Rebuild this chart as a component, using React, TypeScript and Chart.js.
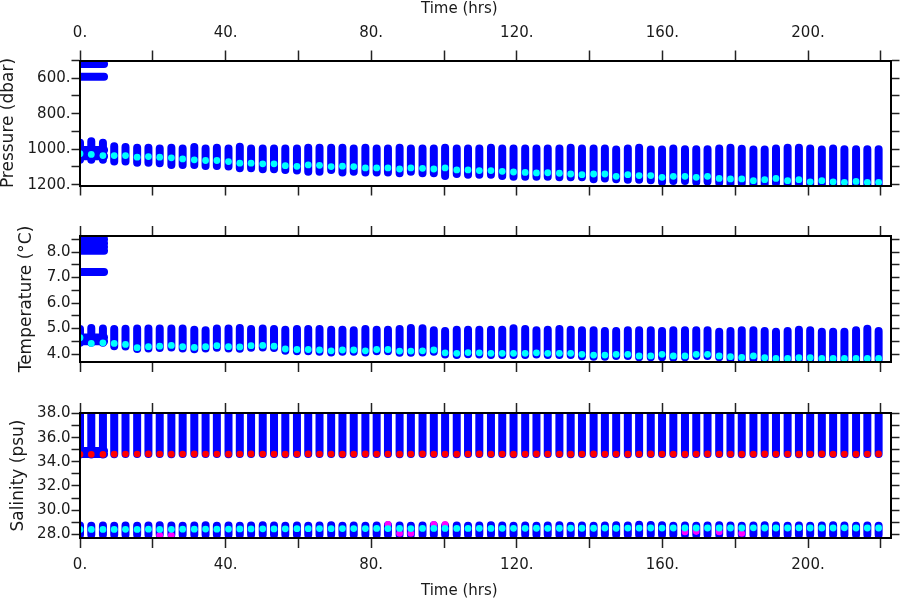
import { useEffect, useRef } from 'react';
import { Chart, registerables } from 'chart.js';

Chart.register(...registerables);

// ---------- data ----------
const TIMES = [0, 3.1, 6.3, 9.4, 12.5, 15.7, 18.8, 21.9, 25.1, 28.2, 31.4, 34.5, 37.6, 40.8, 43.9, 47.0, 50.2, 53.3, 56.4, 59.6,
  62.7, 65.8, 69.0, 72.1, 75.2, 78.4, 81.5, 84.6, 87.8, 90.9, 94.1, 97.2, 100.3, 103.5, 106.6, 109.7, 112.9, 116.0, 119.1, 122.3,
  125.4, 128.5, 131.7, 134.8, 137.9, 141.1, 144.2, 147.3, 150.5, 153.6, 156.8, 159.9, 163.0, 166.2, 169.3, 172.4, 175.6, 178.7,
  181.8, 185.0, 188.1, 191.2, 194.4, 197.5, 200.6, 203.8, 206.9, 210.0, 213.2, 216.3, 219.4];

// Pressure (dbar): shallowest / deepest sample of each profile, and highlighted (cyan) sample
const PRES_TOP = [964, 955, 964, 983, 988, 992, 992, 996, 992, 996, 988, 996, 992, 996, 986, 996, 996, 996, 996, 996,
  992, 992, 992, 992, 996, 992, 996, 996, 992, 996, 996, 996, 992, 996, 996, 996, 992, 996, 996, 996, 996, 996, 996, 992, 996, 996, 996,
  1002, 996, 992, 1002, 1002, 996, 1000, 1000, 1000, 996, 992, 998, 1002, 1002, 996, 992, 992, 996, 1002, 996, 1000, 1000, 1000, 1000];
const PRES_BOT = [1060, 1060, 1060, 1070, 1070, 1076, 1076, 1079, 1089, 1089, 1089, 1095, 1095, 1098, 1108, 1108, 1113, 1113, 1117,
  1121, 1128, 1128, 1117, 1132, 1128, 1132, 1132, 1132, 1136, 1128, 1136, 1136, 1151, 1140, 1145, 1145, 1145, 1151, 1155, 1155, 1155,
  1155, 1159, 1159, 1159, 1170, 1165,
  1170, 1172, 1172, 1176, 1185, 1180, 1180, 1185, 1182, 1190, 1195, 1192, 1200, 1198, 1192, 1200, 1198, 1205, 1200, 1205, 1208, 1205, 1208, 1208];
const PRES_CYAN = [1026, 1030, 1036, 1036, 1036, 1045, 1042, 1045, 1049, 1055, 1060, 1064, 1064, 1070, 1079, 1079, 1083, 1083, 1093, 1097,
  1089, 1091, 1098, 1096, 1098, 1106, 1106, 1106, 1112, 1106, 1108, 1112, 1106, 1117, 1117, 1121, 1121, 1125, 1129, 1131,
  1134, 1133, 1136, 1140, 1144, 1140, 1140, 1153, 1144, 1149, 1149, 1159, 1153, 1153, 1159, 1153, 1165,
  1168, 1168, 1178, 1172, 1165, 1178, 1172, 1184, 1178, 1184, 1187, 1182, 1187, 1187];
// early continuous (drifting) samples, first hours of the record
const PRES_EARLY = [520, 591, 1005, 1040];
const EARLY_START = 0;
const EARLY_END = 6.6;

// Temperature (degC)
const TEMP_TOP = [4.98, 5.02, 5.0, 4.98, 4.99, 5.0, 5.0, 5.0, 5.0, 5.0, 4.95, 4.93, 5.0, 5.0, 5.02, 4.98, 5.0, 4.98, 4.95, 4.98,
  4.98, 4.98, 4.95, 4.95, 4.93, 4.98, 4.95, 4.95, 4.98, 5.02, 5.01, 4.93, 4.91, 4.95, 4.95, 4.95, 4.95, 4.95, 5.01, 4.98,
  4.93, 4.95, 4.98, 4.95, 4.93, 4.93, 4.91, 4.91, 4.93, 4.93, 4.93, 4.91, 4.93, 4.93, 4.93, 4.93, 4.88,
  4.91, 4.93, 4.93, 4.91, 4.88, 4.91, 4.95, 4.93, 4.88, 4.88, 4.88, 4.93, 4.99, 4.91];
const TEMP_BOT = [4.44, 4.44, 4.44, 4.31, 4.30, 4.20, 4.22, 4.24, 4.26, 4.22, 4.19, 4.22, 4.25, 4.22, 4.21, 4.25, 4.26, 4.24, 4.13, 4.11,
  4.11, 4.09, 4.06, 4.09, 4.09, 4.06, 4.11, 4.11, 4.05, 4.05, 4.06, 4.09, 3.98, 3.96, 3.99, 3.98, 3.96, 3.96, 3.96, 3.96,
  3.98, 3.96, 3.96, 3.96, 3.92, 3.90, 3.90, 3.93, 3.93, 3.88, 3.88, 3.88, 3.86, 3.88, 3.93, 3.93, 3.88,
  3.82, 3.80, 3.82, 3.81, 3.79, 3.79, 3.81, 3.81, 3.79, 3.79, 3.79, 3.79, 3.79, 3.79];
const TEMP_CYAN = [4.64, 4.42, 4.44, 4.42, 4.38, 4.25, 4.29, 4.31, 4.34, 4.29, 4.26, 4.29, 4.33, 4.29, 4.28, 4.33, 4.34, 4.31, 4.20, 4.18,
  4.18, 4.16, 4.13, 4.16, 4.16, 4.13, 4.18, 4.18, 4.12, 4.12, 4.13, 4.16, 4.05, 4.03, 4.06, 4.05, 4.03, 4.03, 4.03, 4.03,
  4.05, 4.03, 4.03, 4.03, 3.99, 3.96, 3.96, 3.99, 3.99, 3.93, 3.93, 3.99, 3.93, 3.93, 3.99, 3.99, 3.93,
  3.90, 3.87, 3.93, 3.86, 3.83, 3.83, 3.86, 3.86, 3.83, 3.83, 3.83, 3.83, 3.83, 3.83];
const TEMP_EARLY = [8.05, 8.2, 8.35, 8.5, 8.65, 7.22, 4.5, 4.65];

// Salinity (psu): upper branch (clipped at top of panel) ending at red, lower branch with cyan / magenta
const SAL_HI_TOP = [38.3, 38.3, 38.3, 38.3, 38.3, 38.3, 38.3, 38.3, 38.3, 38.3, 38.3, 38.3, 38.3, 38.3, 38.3, 38.3, 38.3, 38.3, 38.3, 38.3,
  38.3, 38.3, 38.3, 38.3, 38.3, 38.3, 38.3, 38.3, 38.3, 38.3, 38.3, 38.3, 38.3, 38.3, 38.3, 38.3, 38.3, 38.3, 38.3, 38.3,
  38.3, 38.3, 38.3, 38.3, 38.3, 38.3, 38.3, 38.3, 38.3, 38.3, 38.3, 38.3, 38.3, 38.3, 38.3, 38.3, 38.3,
  38.3, 38.3, 38.3, 38.3, 38.3, 38.3, 38.3, 38.3, 38.3, 38.3, 38.3, 38.3, 38.3, 38.3];
const SAL_RED = [34.62, 34.62, 34.62, 34.64, 34.65, 34.65, 34.66, 34.65, 34.64, 34.65, 34.66, 34.65, 34.65, 34.64, 34.65, 34.66, 34.65, 34.65, 34.64, 34.65,
  34.66, 34.65, 34.65, 34.64, 34.65, 34.66, 34.65, 34.65, 34.64, 34.65, 34.66, 34.65, 34.65, 34.64, 34.65, 34.66, 34.65, 34.65, 34.64, 34.65,
  34.66, 34.65, 34.65, 34.64, 34.65, 34.66, 34.65, 34.65, 34.64, 34.65, 34.66, 34.65, 34.65, 34.64, 34.65, 34.66, 34.65,
  34.65, 34.64, 34.65, 34.66, 34.65, 34.65, 34.64, 34.65, 34.66, 34.65, 34.65, 34.64, 34.65, 34.66];
const SAL_LO_TOP = [28.72, 28.70, 28.72, 28.70, 28.72, 28.70, 28.72, 28.74, 28.72, 28.70, 28.72, 28.74, 28.70, 28.72, 28.70, 28.72, 28.74, 28.72, 28.70, 28.72,
  28.70, 28.72, 28.74, 28.70, 28.72, 28.70, 28.72, 28.74, 28.72, 28.70, 28.72, 28.74, 28.70, 28.72, 28.70, 28.72, 28.74, 28.72, 28.70, 28.72,
  28.70, 28.72, 28.74, 28.70, 28.72, 28.70, 28.72, 28.74, 28.72, 28.78, 28.76, 28.74, 28.70, 28.72, 28.70, 28.72, 28.74,
  28.72, 28.70, 28.72, 28.74, 28.72, 28.70, 28.72, 28.70, 28.72, 28.74, 28.72, 28.70, 28.72, 28.70];
const SAL_LO_BOT = [27.95, 27.95, 27.95, 27.95, 27.95, 27.95, 27.95, 27.95, 27.95, 27.95, 27.95, 27.95, 27.95, 27.95, 27.95, 27.95, 27.95, 27.95, 27.95, 27.95,
  27.95, 27.95, 27.95, 27.95, 27.95, 27.95, 27.95, 27.95, 27.95, 27.95, 27.95, 27.95, 27.95, 27.95, 27.95, 27.95, 27.95, 27.95, 27.95, 27.95,
  27.95, 27.95, 27.95, 27.95, 27.95, 27.95, 27.95, 27.95, 27.95, 27.95, 27.95, 27.95, 27.95, 27.95, 27.95, 27.95, 27.95,
  27.95, 27.95, 27.95, 27.95, 27.95, 27.95, 27.95, 27.95, 27.95, 27.95, 27.95, 27.95, 27.95, 27.95];
const SAL_CYAN = [28.40, 28.40, 28.40, 28.40, 28.41, 28.40, 28.42, 28.40, 28.41, 28.42, 28.42, 28.43, 28.42, 28.43, 28.44, 28.44, 28.45, 28.44, 28.45, 28.46,
  28.46, 28.47, 28.46, 28.47, 28.47, 28.47, 28.48, 28.47, 28.48, 28.47, 28.48, 28.48, 28.48, 28.48, 28.48, 28.49, 28.48, 28.49, 28.49, 28.49,
  28.50, 28.49, 28.50, 28.50, 28.50, 28.50, 28.51, 28.50, 28.51, 28.51, 28.52, 28.51, 28.52, 28.52, 28.52, 28.52, 28.52,
  28.52, 28.52, 28.53, 28.52, 28.52, 28.52, 28.53, 28.52, 28.52, 28.52, 28.53, 28.52, 28.52, 28.52];
const SAL_EARLY = [34.65, 34.9];
const MAG_TIMES = [21.9, 25.1, 84.6, 87.8, 90.9, 97.2, 100.3, 166.2, 169.3, 175.6, 181.8];
const MAG_VALS = [27.92, 27.92, 28.83, 28.06, 28.06, 28.83, 28.83, 28.19, 28.22, 28.19, 28.06];

// ---------- axes ----------
const X_MIN = 0;
const X_MAX = 222.8;
const X_TICKS = [0, 20, 40, 60, 80, 100, 120, 140, 160, 180, 200, 220];
const X_LABELS = [0, 40, 80, 120, 160, 200];
const X_TITLE = 'Time (hrs)';
const PRES_RANGE = [500, 1205];
const PRES_TICKS = [500, 600, 700, 800, 900, 1000, 1100, 1200];
const PRES_LABELS = [600, 800, 1000, 1200];
const TEMP_RANGE = [3.69, 8.63];
const TEMP_TICKS = [4, 4.5, 5, 5.5, 6, 6.5, 7, 7.5, 8, 8.5];
const TEMP_LABELS = [4, 5, 6, 7, 8];
const SAL_RANGE = [27.69, 38.05];
const SAL_TICKS = [28, 29, 30, 31, 32, 33, 34, 35, 36, 37, 38];
const SAL_LABELS = [28, 30, 32, 34, 36, 38];

// ---------- styles ----------
const FONT = "'DejaVu Sans', sans-serif";
const TEXT = '#1a1a1a';
const BLUE = '#0000ff';
const CYAN = '#00ffff';
const RED = '#ff0000';
const MAGENTA = '#ff00ff';
// the time-axis title sits left of the plot centre in the original; trailing blanks shift the centred text
const X_TITLE_SHIFT = '\u00a0'.repeat(11);

type Pt = { x: number; y: number | null };

const columns = (t: number[], a: number[], b: number[]): Pt[] => {
  const out: Pt[] = [];
  t.forEach((x, i) => {
    out.push({ x, y: a[i] }, { x, y: b[i] }, { x, y: null });
  });
  return out;
};
const bands = (levels: number[], t0: number, t1: number): Pt[] => {
  const out: Pt[] = [];
  levels.forEach((y) => {
    out.push({ x: t0, y }, { x: t1, y }, { x: t1, y: null });
  });
  return out;
};
const dots = (t: number[], v: number[]): Pt[] => t.map((x, i) => ({ x, y: v[i] }));

const lineDs = (data: Pt[], order: number) => ({
  data,
  showLine: true,
  borderColor: BLUE,
  borderWidth: 8,
  borderCapStyle: 'round',
  borderJoinStyle: 'round',
  pointRadius: 0,
  pointHoverRadius: 0,
  spanGaps: false,
  clip: 0,
  order,
});
const dotDs = (data: Pt[], color: string, r: number, order: number) => ({
  data,
  showLine: false,
  pointRadius: r,
  pointHoverRadius: r,
  pointBackgroundColor: color,
  pointBorderColor: color,
  pointBorderWidth: 0,
  clip: 0,
  order,
});

const near = (list: number[], v: number) => list.some((l) => Math.abs(l - v) < 1e-6);

const gridOpts = (len: number) => ({
  display: true,
  drawOnChartArea: false,
  drawTicks: true,
  tickLength: len,
  tickWidth: 1.5,
  tickColor: '#222',
  color: '#222',
});
const borderOpts = { display: true, color: '#000', width: 2, z: 1 };

interface PanelSpec {
  padTop: number;
  padBottom: number;
  labelTop: boolean;
  labelBottom: boolean;
  topH: number;
  bottomH: number;
  yRange: number[];
  yTicks: number[];
  yLabels: number[];
  yFmt: (v: number) => string;
  reverse: boolean;
  yTitle: string;
  yTitleCenter: number;
  datasets: any[];
}

const TITLE_SIZE = 17;

function xAxis(position: 'top' | 'bottom', height: number, labelled: boolean) {
  return {
    type: 'linear',
    position,
    min: X_MIN,
    max: X_MAX,
    afterBuildTicks: (ax: any) => {
      ax.ticks = X_TICKS.map((v) => ({ value: v }));
    },
    afterFit: (ax: any) => {
      ax.height = height;
    },
    ticks: {
      autoSkip: false,
      maxRotation: 0,
      minRotation: 0,
      padding: position === 'top' ? 8.5 : 8,
      color: TEXT,
      font: { family: FONT, size: 15 },
      callback: (v: number) => (labelled && near(X_LABELS, v) ? `${v}.` : ''),
    },
    grid: gridOpts(10),
    border: borderOpts,
    title: {
      display: labelled,
      text: X_TITLE + X_TITLE_SHIFT,
      color: TEXT,
      font: { family: FONT, size: 15, lineHeight: 1 },
      padding: position === 'top' ? { top: 1.5, bottom: 0 } : { top: 0, bottom: 1.5 },
    },
  };
}

function yAxis(p: PanelSpec, position: 'left' | 'right') {
  const left = position === 'left';
  return {
    type: 'linear',
    position,
    min: p.yRange[0],
    max: p.yRange[1],
    reverse: p.reverse,
    afterBuildTicks: (ax: any) => {
      ax.ticks = p.yTicks.map((v) => ({ value: v }));
    },
    afterFit: (ax: any) => {
      ax.width = left ? 80 : 9;
    },
    ticks: {
      autoSkip: false,
      padding: 1,
      color: TEXT,
      font: { family: FONT, size: 15 },
      callback: (v: number) => (left && near(p.yLabels, v) ? p.yFmt(v) : ''),
    },
    grid: gridOpts(8.5),
    border: borderOpts,
    title: {
      display: left,
      text: p.yTitle,
      color: TEXT,
      font: { family: FONT, size: TITLE_SIZE, lineHeight: 1 },
      padding: { top: p.yTitleCenter - TITLE_SIZE / 2, bottom: 0 },
    },
  };
}

function makeConfig(p: PanelSpec): any {
  return {
    type: 'scatter',
    data: { datasets: p.datasets },
    options: {
      animation: false,
      responsive: false,
      devicePixelRatio: 1,
      events: [],
      layout: { padding: { left: 0, right: 0, top: p.padTop, bottom: p.padBottom }, autoPadding: false },
      plugins: { legend: { display: false }, tooltip: { enabled: false } },
      scales: {
        x: xAxis('top', p.topH, p.labelTop),
        x2: xAxis('bottom', p.bottomH, p.labelBottom),
        y: yAxis(p, 'left'),
        y2: yAxis(p, 'right'),
      },
    },
  };
}

const PANELS: PanelSpec[] = [
  {
    padTop: 0,
    padBottom: 402.5,
    labelTop: true,
    labelBottom: false,
    topH: 60.5,
    bottomH: 12,
    yRange: PRES_RANGE,
    yTicks: PRES_TICKS,
    yLabels: PRES_LABELS,
    yFmt: (v) => `${v}.`,
    reverse: true,
    yTitle: 'Pressure (dbar)',
    yTitleCenter: 8.8,
    datasets: [
      dotDs(dots(TIMES, PRES_CYAN), CYAN, 3.4, 1),
      lineDs(bands(PRES_EARLY, EARLY_START, EARLY_END), 3),
      lineDs(columns(TIMES, PRES_TOP, PRES_BOT), 3),
    ],
  },
  {
    padTop: 224,
    padBottom: 226,
    labelTop: false,
    labelBottom: false,
    topH: 12,
    bottomH: 12,
    yRange: TEMP_RANGE,
    yTicks: TEMP_TICKS,
    yLabels: TEMP_LABELS,
    yFmt: (v) => v.toFixed(1),
    reverse: false,
    yTitle: 'Temperature (°C)',
    yTitleCenter: 27,
    datasets: [
      dotDs(dots(TIMES, TEMP_CYAN), CYAN, 3.4, 1),
      lineDs(bands(TEMP_EARLY, EARLY_START, EARLY_END), 3),
      lineDs(columns(TIMES, TEMP_TOP, TEMP_BOT), 3),
    ],
  },
  {
    padTop: 401,
    padBottom: 0,
    labelTop: false,
    labelBottom: true,
    topH: 12,
    bottomH: 62,
    yRange: SAL_RANGE,
    yTicks: SAL_TICKS,
    yLabels: SAL_LABELS,
    yFmt: (v) => v.toFixed(1),
    reverse: false,
    yTitle: 'Salinity (psu)',
    yTitleCenter: 18.3,
    datasets: [
      dotDs(dots(TIMES, SAL_RED), RED, 3.3, 1),
      dotDs(dots(TIMES, SAL_CYAN), CYAN, 3.4, 1),
      dotDs(dots(MAG_TIMES, MAG_VALS), MAGENTA, 3.3, 2),
      lineDs(bands(SAL_EARLY, EARLY_START, EARLY_END), 3),
      lineDs(columns(TIMES, SAL_HI_TOP, SAL_RED), 3),
      lineDs(columns(TIMES, SAL_LO_TOP, SAL_LO_BOT), 3),
    ],
  },
];

export default function App() {
  const refs = [useRef<HTMLCanvasElement>(null), useRef<HTMLCanvasElement>(null), useRef<HTMLCanvasElement>(null)];

  useEffect(() => {
    const charts = PANELS.map((p, i) => new Chart(refs[i].current as HTMLCanvasElement, makeConfig(p)));
    return () => charts.forEach((c) => c.destroy());
  }, []);

  return (
    <div style={{ position: 'absolute', left: 0, top: 0, width: 900, height: 600, background: '#fff' }}>
      {refs.map((r, i) => (
        <canvas
          key={i}
          ref={r}
          width={900}
          height={600}
          style={{ position: 'absolute', left: 0, top: 0, width: 900, height: 600 }}
        />
      ))}
    </div>
  );
}
